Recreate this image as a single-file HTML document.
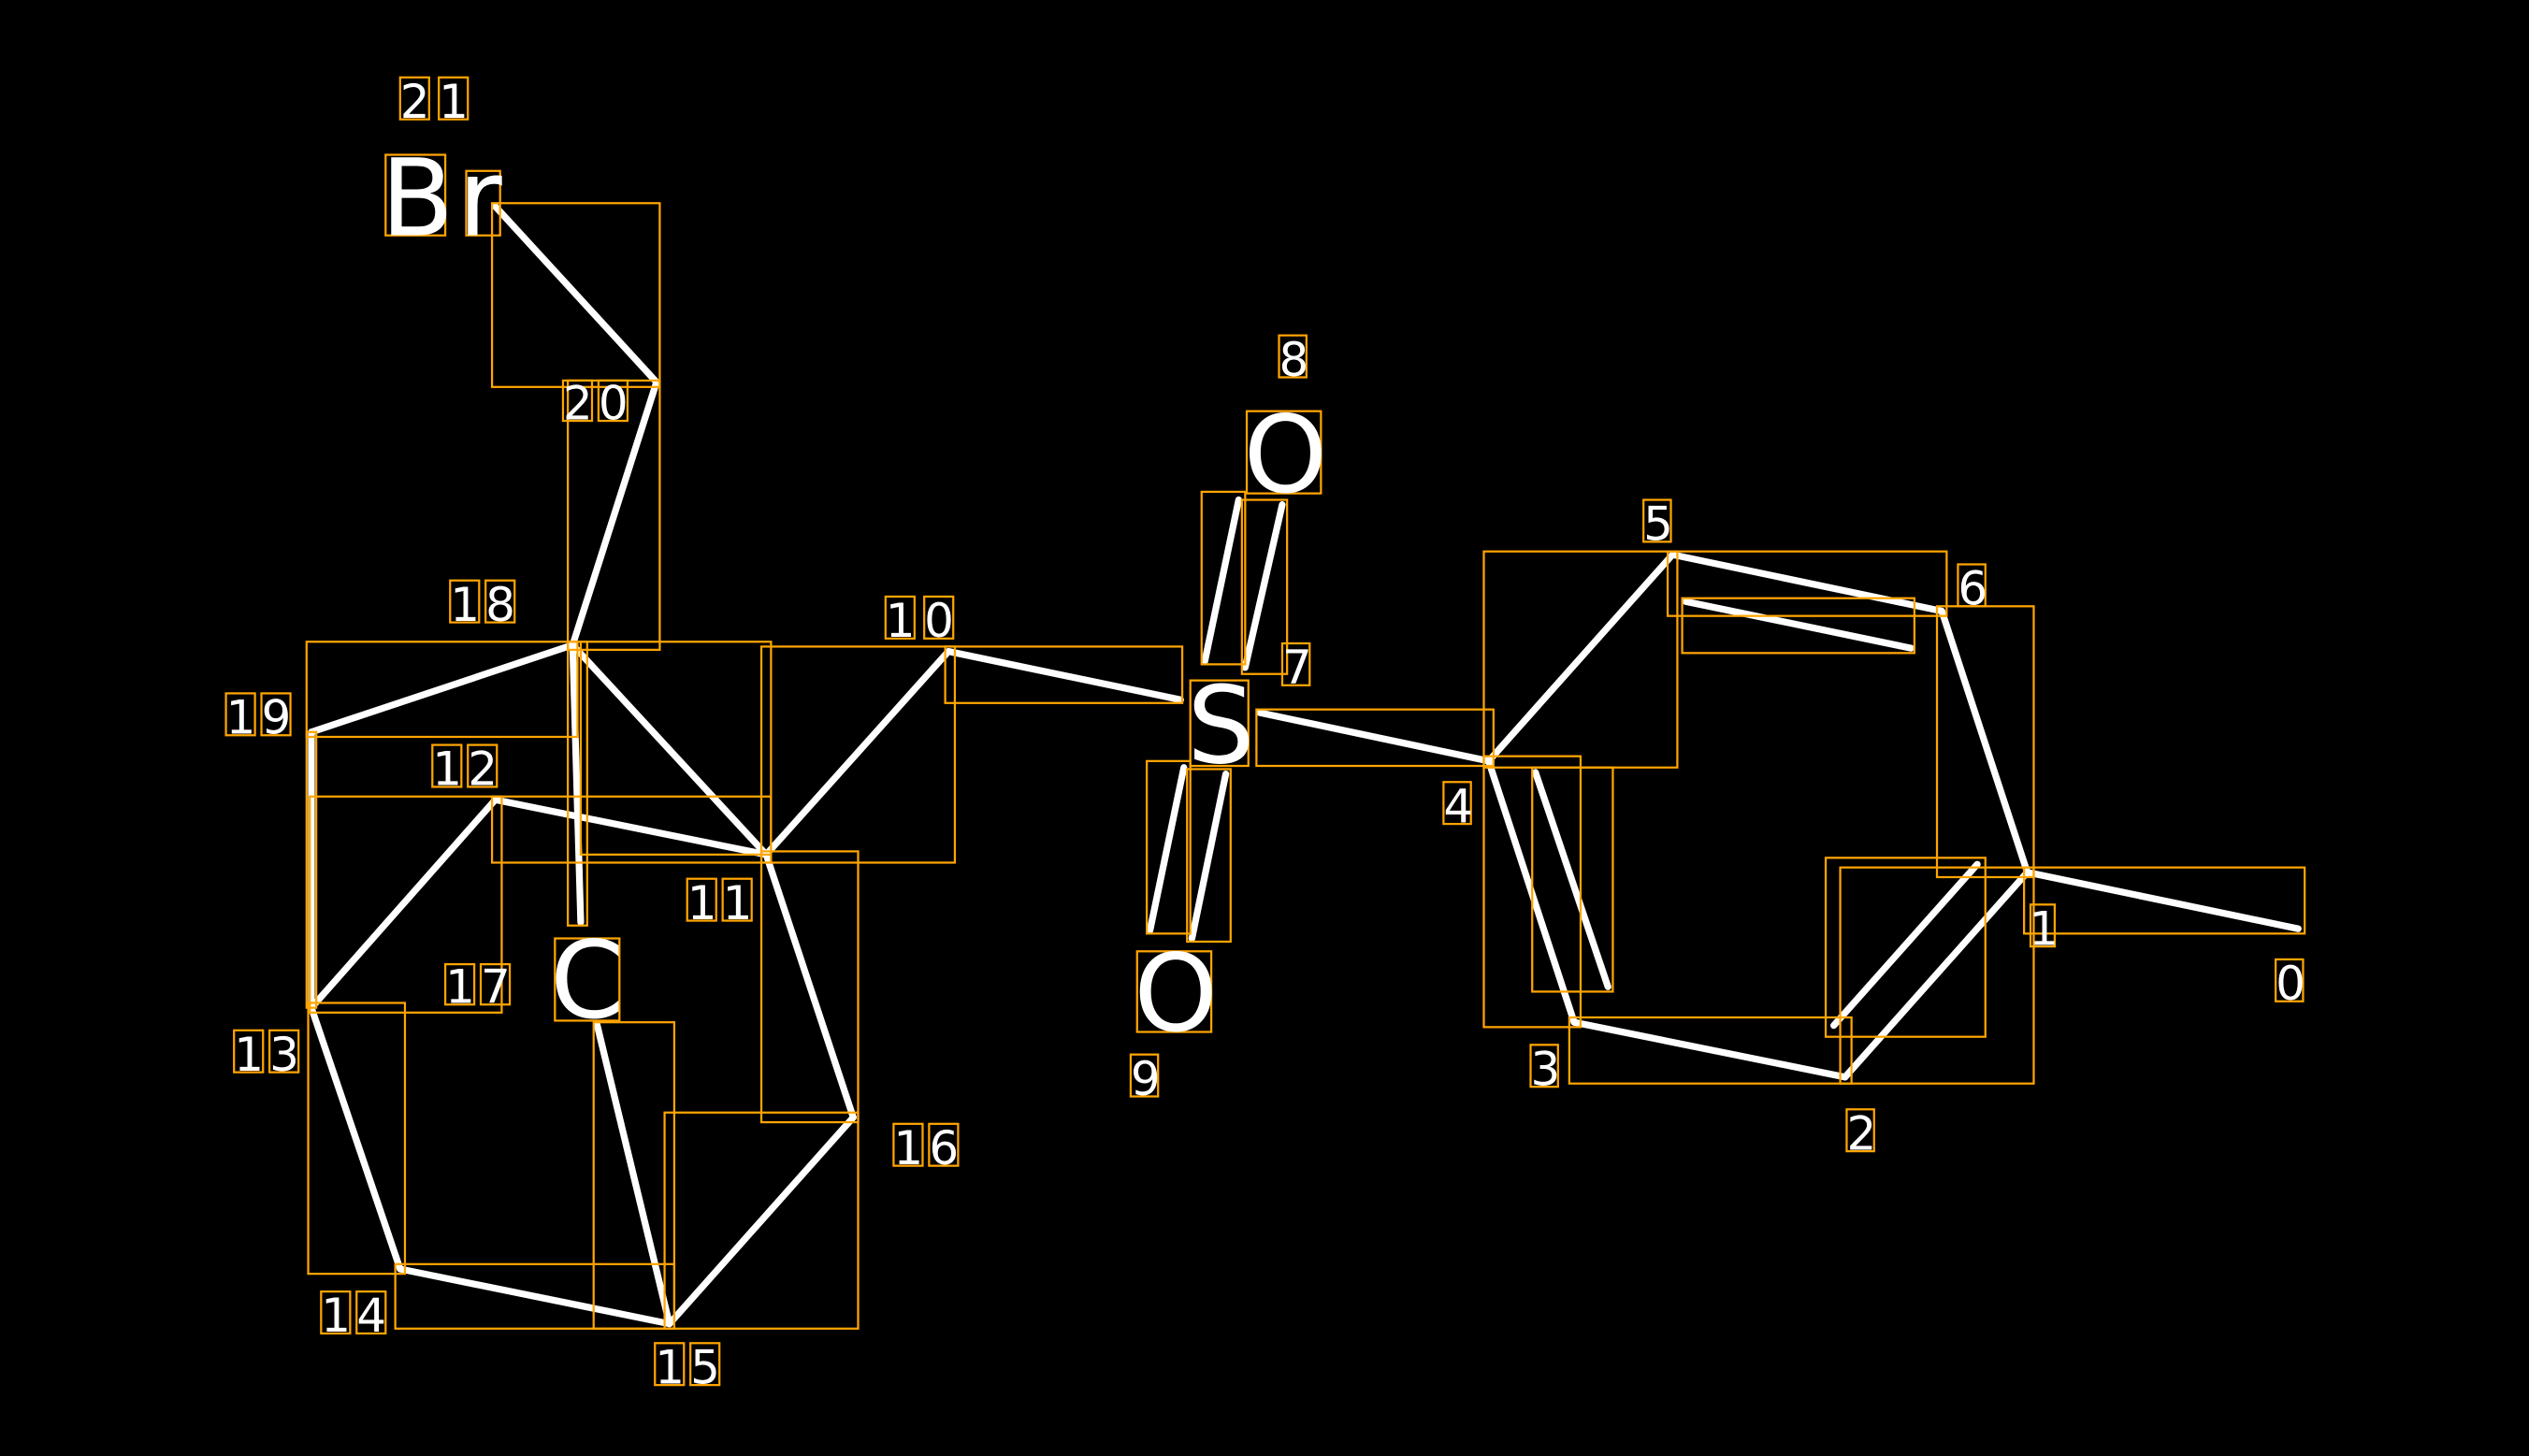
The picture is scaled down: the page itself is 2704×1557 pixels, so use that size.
<!DOCTYPE html>
<html><head><style>html,body{margin:0;padding:0;background:#000;}svg{display:block}</style></head>
<body>
<svg width="2704" height="1557" viewBox="0 0 1568 903" xmlns="http://www.w3.org/2000/svg">
<rect width="1568" height="903" fill="#000"/>
<g stroke="#fff" stroke-width="4.2" stroke-linecap="round" fill="none">
<line x1="307" y1="128" x2="407" y2="237"/>
<line x1="407" y1="237" x2="355" y2="400"/>
<line x1="355" y1="400" x2="193" y2="454"/>
<line x1="355" y1="400" x2="360" y2="572"/>
<line x1="355" y1="400" x2="475" y2="530"/>
<line x1="193" y1="454" x2="193" y2="625"/>
<line x1="475" y1="530" x2="307" y2="496"/>
<line x1="307" y1="496" x2="193" y2="625"/>
<line x1="193" y1="625" x2="248" y2="787"/>
<line x1="248" y1="787" x2="415" y2="821"/>
<line x1="370" y1="635" x2="415" y2="821"/>
<line x1="415" y1="821" x2="529" y2="693"/>
<line x1="529" y1="693" x2="475" y2="530"/>
<line x1="475" y1="530" x2="588" y2="404"/>
<line x1="588" y1="404" x2="732" y2="434"/>
<line x1="747" y1="410" x2="768" y2="310"/>
<line x1="772" y1="414" x2="795" y2="313"/>
<line x1="713" y1="577" x2="734" y2="476"/>
<line x1="739" y1="582" x2="760" y2="480"/>
<line x1="781" y1="442" x2="923" y2="472"/>
<line x1="923" y1="472" x2="1037" y2="344"/>
<line x1="1037" y1="344" x2="1204" y2="379"/>
<line x1="1045" y1="373" x2="1185" y2="402"/>
<line x1="1204" y1="379" x2="1257" y2="541"/>
<line x1="1257" y1="541" x2="1425" y2="576"/>
<line x1="1257" y1="541" x2="1144" y2="668"/>
<line x1="1137" y1="636" x2="1226" y2="536"/>
<line x1="1144" y1="668" x2="976" y2="634"/>
<line x1="976" y1="634" x2="923" y2="472"/>
<line x1="952" y1="479" x2="997" y2="612"/>
</g>
<g stroke="#FFA500" stroke-width="1.3" fill="none">
<rect x="305" y="126" width="104" height="114"/>
<rect x="352" y="236" width="57" height="167"/>
<rect x="190" y="398" width="168" height="59"/>
<rect x="352" y="398" width="12" height="176"/>
<rect x="360" y="398" width="118" height="132"/>
<rect x="190" y="454" width="6" height="171"/>
<rect x="305" y="494" width="173" height="41"/>
<rect x="192" y="494" width="119" height="134"/>
<rect x="191" y="622" width="60" height="168"/>
<rect x="245" y="784" width="173" height="40"/>
<rect x="368" y="634" width="50" height="190"/>
<rect x="412" y="690" width="120" height="134"/>
<rect x="472" y="528" width="60" height="168"/>
<rect x="472" y="401" width="120" height="134"/>
<rect x="586" y="401" width="147" height="35"/>
<rect x="745" y="305" width="27" height="107"/>
<rect x="770" y="310" width="28" height="108"/>
<rect x="711" y="472" width="27" height="107"/>
<rect x="736" y="477" width="27" height="107"/>
<rect x="779" y="440" width="147" height="35"/>
<rect x="920" y="342" width="120" height="134"/>
<rect x="1034" y="342" width="173" height="40"/>
<rect x="1043" y="371" width="144" height="34"/>
<rect x="1201" y="376" width="60" height="168"/>
<rect x="1255" y="538" width="174" height="41"/>
<rect x="1141" y="538" width="120" height="134"/>
<rect x="1132" y="532" width="99" height="111"/>
<rect x="973" y="631" width="175" height="41"/>
<rect x="920" y="469" width="60" height="168"/>
<rect x="950" y="476" width="50" height="139"/>
<!-- big letter boxes -->
<rect x="239" y="96" width="37" height="50"/>
<rect x="289" y="106" width="21" height="40"/>
<rect x="773" y="255" width="46" height="51"/>
<rect x="738" y="422" width="36" height="53"/>
<rect x="705" y="590" width="46" height="50"/>
<rect x="344" y="582" width="40" height="51"/>
<!-- digit boxes -->
<rect x="248" y="48" width="18" height="26"/><rect x="272" y="48" width="18" height="26"/>
<rect x="349" y="236" width="18" height="25"/><rect x="371" y="236" width="18" height="25"/>
<rect x="279" y="360" width="18" height="26"/><rect x="301" y="360" width="18" height="26"/>
<rect x="549" y="370" width="18" height="26"/><rect x="573" y="370" width="18" height="26"/>
<rect x="140" y="430" width="18" height="26"/><rect x="162" y="430" width="18" height="26"/>
<rect x="268" y="462" width="18" height="26"/><rect x="290" y="462" width="18" height="26"/>
<rect x="426" y="545" width="18" height="26"/><rect x="448" y="545" width="18" height="26"/>
<rect x="276" y="598" width="18" height="25"/><rect x="298" y="598" width="18" height="25"/>
<rect x="145" y="639" width="18" height="26"/><rect x="167" y="639" width="18" height="26"/>
<rect x="199" y="801" width="18" height="26"/><rect x="221" y="801" width="18" height="26"/>
<rect x="406" y="833" width="18" height="26"/><rect x="428" y="833" width="18" height="26"/>
<rect x="554" y="697" width="18" height="26"/><rect x="576" y="697" width="18" height="26"/>
<rect x="793" y="208" width="17" height="26"/>
<rect x="795" y="399" width="17" height="26"/>
<rect x="1019" y="310" width="17" height="26"/>
<rect x="1214" y="350" width="17" height="26"/>
<rect x="895" y="485" width="17" height="26"/>
<rect x="1259" y="561" width="15" height="26"/>
<rect x="1411" y="595" width="17" height="26"/>
<rect x="949" y="648" width="17" height="26"/>
<rect x="1145" y="688" width="17" height="26"/>
<rect x="701" y="654" width="17" height="26"/>
</g>
<g fill="#fff" font-family="DejaVu Sans, sans-serif">
<g font-size="66">
<text x="236" y="146">B</text><text x="284" y="146">r</text>
<text x="771" y="305">O</text>
<text x="736" y="473">S</text>
<text x="703" y="639">O</text>
<text x="341" y="631">C</text>
</g>
<g font-size="29">
<text x="248" y="73">2</text><text x="272" y="73">1</text>
<text x="349" y="260">2</text><text x="371" y="260">0</text>
<text x="279" y="385">1</text><text x="301" y="385">8</text>
<text x="549" y="395">1</text><text x="573" y="395">0</text>
<text x="140" y="455">1</text><text x="162" y="455">9</text>
<text x="268" y="487">1</text><text x="290" y="487">2</text>
<text x="426" y="570">1</text><text x="448" y="570">1</text>
<text x="276" y="622">1</text><text x="298" y="622">7</text>
<text x="145" y="664">1</text><text x="167" y="664">3</text>
<text x="199" y="826">1</text><text x="221" y="826">4</text>
<text x="406" y="858">1</text><text x="428" y="858">5</text>
<text x="554" y="722">1</text><text x="576" y="722">6</text>
<text x="793" y="233">8</text>
<text x="795" y="424">7</text>
<text x="1019" y="335">5</text>
<text x="1214" y="375">6</text>
<text x="895" y="510">4</text>
<text x="1258" y="586">1</text>
<text x="1411" y="620">0</text>
<text x="949" y="673">3</text>
<text x="1145" y="713">2</text>
<text x="701" y="679">9</text>
</g>
</g>
</svg>
</body></html>
